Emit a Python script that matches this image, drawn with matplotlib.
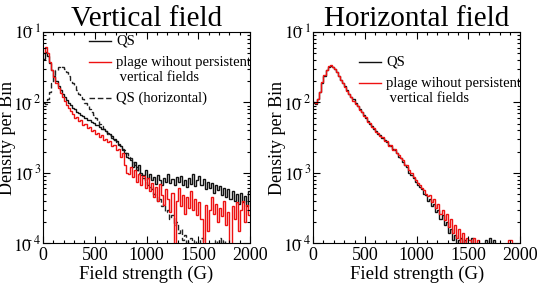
import matplotlib
matplotlib.use('Agg')
import matplotlib.pyplot as plt
from matplotlib.lines import Line2D
from matplotlib.ticker import MultipleLocator, LogLocator, FixedLocator
import numpy as np

plt.rcParams['font.family'] = ['Liberation Serif', 'DejaVu Serif']
plt.rcParams['mathtext.fontset'] = 'stix'

# histogram bins: 20 G wide, 0..2000 G
edges = np.arange(0, 2001, 20)

# vertical field, quiet sun (black)
qs_vert = [0.042, 0.052, 0.045, 0.036, 0.029, 0.024, 0.020, 0.017, 0.015, 0.013,
           0.0118, 0.0108, 0.0099, 0.0091, 0.0084, 0.0080, 0.0074, 0.0070, 0.0066, 0.0064,
           0.0060, 0.0057, 0.0056, 0.0052, 0.0051, 0.0048, 0.0047, 0.0044, 0.0042, 0.0042,
           0.0039, 0.0037, 0.0035, 0.0033, 0.0030, 0.0028, 0.0026, 0.0024, 0.0021, 0.0019,
           0.0017, 0.0016, 0.0015, 0.0012, 0.0014, 0.0011, 0.0013, 0.0010, 0.00092, 0.0011,
           0.00085, 0.00095, 0.00078, 0.00088, 0.00070, 0.00092, 0.00080, 0.00068, 0.00085, 0.00075,
           0.00095, 0.00072, 0.00082, 0.00066, 0.00088, 0.00074, 0.00090, 0.00068, 0.00080, 0.00062,
           0.00085, 0.00070, 0.00096, 0.00064, 0.00078, 0.00090, 0.00066, 0.00082, 0.00058, 0.00075,
           0.00060, 0.00072, 0.00052, 0.00068, 0.00056, 0.00064, 0.00048, 0.00060, 0.00045, 0.00058,
           0.00042, 0.00055, 0.00040, 0.00050, 0.00036, 0.00052, 0.00039, 0.00046, 0.00034, 0.00055]

# vertical field, plage without persistent vertical fields (red)
pl_vert = [0.050, 0.062, 0.050, 0.038, 0.029, 0.023, 0.019, 0.016, 0.0135, 0.0118,
           0.0104, 0.0093, 0.0083, 0.0075, 0.0068, 0.0060, 0.0062, 0.0054, 0.0056, 0.0048,
           0.0049, 0.0043, 0.0045, 0.0039, 0.0041, 0.0036, 0.0037, 0.0032, 0.0034, 0.0029,
           0.0030, 0.0027, 0.0028, 0.0024, 0.0025, 0.0021, 0.0022, 0.0017, 0.0019, 0.0013,
           0.0010, 0.00095, 0.0012, 0.00088, 0.0011, 0.00075, 0.00095, 0.00068, 0.00090, 0.00060,
           0.00085, 0.00055, 0.00072, 0.00045, 0.00062, 0.00040, 0.00070, 0.00048, 0.00035, 0.00058,
           0.00042, 0.00028, 0.00052, 0.0, 0.00040, 0.00060, 0.00034, 0.00048, 0.00026, 0.00045,
           0.00032, 0.00055, 0.00030, 0.00042, 0.00025, 0.00038, 0.00022, 0.0, 0.00035, 0.00015,
           0.00030, 0.00045, 0.00026, 0.00036, 0.00020, 0.00032, 0.00024, 0.00040, 0.00018, 0.00028,
           0.0, 0.00034, 0.00022, 0.00038, 0.00015, 0.00030, 0.00040, 0.00020, 0.00035, 0.00025]

# horizontal field, quiet sun (black; dashed in left panel)
qs_horiz = [0.0098, 0.0095, 0.011, 0.014, 0.019, 0.024, 0.029, 0.032, 0.033, 0.032,
            0.030, 0.027, 0.024, 0.021, 0.019, 0.017, 0.015, 0.013, 0.012, 0.011,
            0.0098, 0.0090, 0.0080, 0.0072, 0.0066, 0.0060, 0.0055, 0.0050, 0.0046, 0.0042,
            0.0039, 0.0036, 0.0034, 0.0031, 0.0029, 0.0027, 0.0025, 0.0024, 0.0022, 0.0021,
            0.0019, 0.0017, 0.0016, 0.0014, 0.0013, 0.0012, 0.0010, 0.00092, 0.00085, 0.00075,
            0.00068, 0.00062, 0.00058, 0.00050, 0.00048, 0.00040, 0.00042, 0.00034, 0.00036, 0.00028,
            0.00030, 0.00022, 0.00025, 0.00018, 0.00020, 0.00014, 0.00016, 0.00011, 0.00013, 0.0,
            0.00011, 0.00012, 0.0, 0.00011, 0.0, 0.0, 0.00012, 0.0, 0.0, 0.0,
            0.0, 0.0, 0.0, 0.00011, 0.0, 0.00012, 0.0, 0.00011, 0.0, 0.0,
            0.0, 0.0, 0.0, 0.0, 0.0, 0.0, 0.0, 0.0, 0.0, 0.0]

# horizontal field, plage (red)
pl_horiz = [0.0100, 0.0097, 0.0112, 0.0142, 0.0192, 0.0243, 0.029, 0.0325, 0.0335, 0.0322,
            0.0298, 0.0268, 0.0236, 0.0210, 0.0186, 0.0168, 0.0146, 0.0131, 0.0118, 0.0106,
            0.0096, 0.0089, 0.0078, 0.0073, 0.0064, 0.0061, 0.0053, 0.0051, 0.0045, 0.0043,
            0.0038, 0.0037, 0.0033, 0.0032, 0.0028, 0.0028, 0.0024, 0.0025, 0.0021, 0.0022,
            0.0019, 0.0018, 0.0016, 0.0015, 0.0013, 0.0013, 0.0011, 0.0010, 0.00088, 0.00080,
            0.00072, 0.00066, 0.00060, 0.00056, 0.00050, 0.00046, 0.00048, 0.00038, 0.00042, 0.00032,
            0.00036, 0.00026, 0.00030, 0.00021, 0.00026, 0.00017, 0.00022, 0.00014, 0.00018, 0.00012,
            0.00016, 0.00010, 0.00014, 0.0, 0.00012, 0.00011, 0.0, 0.00012, 0.0, 0.00011,
            0.0, 0.0, 0.0, 0.0, 0.0, 0.0, 0.0, 0.0, 0.0, 0.0,
            0.0, 0.0, 0.0, 0.0, 0.00011, 0.00011, 0.0, 0.0, 0.0, 0.0]

xticks = [0, 500, 1000, 1500, 2000]
yticks = [1e-4, 1e-3, 1e-2, 1e-1]
ytick_labels = [r'$10^{\!\!\!\!\!\!-4}$', r'$10^{\!\!\!\!\!\!-3}$',
                r'$10^{\!\!\!\!\!\!-2}$', r'$10^{\!\!\!\!\!\!-1}$']

fig = plt.figure(figsize=(5.38, 2.86), dpi=100)
axl = fig.add_axes([0.080, 0.150, 0.385, 0.738])
axr = fig.add_axes([0.582, 0.150, 0.385, 0.738])


def style_axes(ax, title):
    ax.set_yscale('log')
    ax.set_xlim(0, 2000)
    ax.set_ylim(1e-4, 1e-1)
    ax.xaxis.set_major_locator(FixedLocator(xticks))
    ax.xaxis.set_minor_locator(MultipleLocator(100))
    ax.yaxis.set_major_locator(FixedLocator(yticks))
    ax.yaxis.set_minor_locator(LogLocator(base=10, subs=np.arange(2, 10)))
    ax.set_yticklabels(ytick_labels)
    ax.set_xticklabels([str(t) for t in xticks])
    ax.yaxis.set_minor_formatter(plt.NullFormatter())
    ax.tick_params(which='both', direction='in', top=True, right=True, width=0.8)
    ax.tick_params(which='major', length=5, labelsize=13, pad=3)
    ax.tick_params(axis='y', which='major', pad=1, labelsize=12.5)
    ax.tick_params(which='minor', length=2.5)
    ax.set_xlabel('Field strength (G)', fontsize=13.5, labelpad=1)
    ax.set_ylabel('Density per Bin', fontsize=13)
    ax.yaxis.set_label_coords(-0.13, 0.5)
    ax.set_title(title, fontsize=21, pad=3)
    for s in ax.spines.values():
        s.set_linewidth(0.8)


style_axes(axl, 'Vertical field')
style_axes(axr, 'Horizontal field')

axl.stairs(qs_horiz, edges, baseline=None, color='#222222', lw=1.0, ls=(0, (4, 2)))
axl.stairs(qs_vert, edges, baseline=None, color='#111111', lw=1.0)
axl.stairs(pl_vert, edges, baseline=None, color='#ee1111', lw=1.0)

axr.stairs(qs_horiz, edges, baseline=None, color='#111111', lw=1.0)
axr.stairs(pl_horiz, edges, baseline=None, color='#ee1111', lw=1.0)

# hand-made legends
def legend_entry(ax, y, color, ls, lines):
    ax.add_line(Line2D([0.222, 0.33], [y, y], transform=ax.transAxes,
                       color=color, lw=1.0, ls=ls))
    for k, t in enumerate(lines):
        ax.text(0.353, y - k * 0.074, t, transform=ax.transAxes,
                fontsize=10.5, va='center', ha='left')

legend_entry(axl, 0.957, '#111111', '-', ['QS'])
legend_entry(axl, 0.858, '#ee1111', '-', ['plage wihout persistent', ' vertical fields'])
legend_entry(axl, 0.687, '#222222', (0, (4, 2)), ['QS (horizontal)'])

legend_entry(axr, 0.858, '#111111', '-', ['QS'])
legend_entry(axr, 0.758, '#ee1111', '-', ['plage wihout persistent', ' vertical fields'])

fig.savefig('out.png', dpi=100)
